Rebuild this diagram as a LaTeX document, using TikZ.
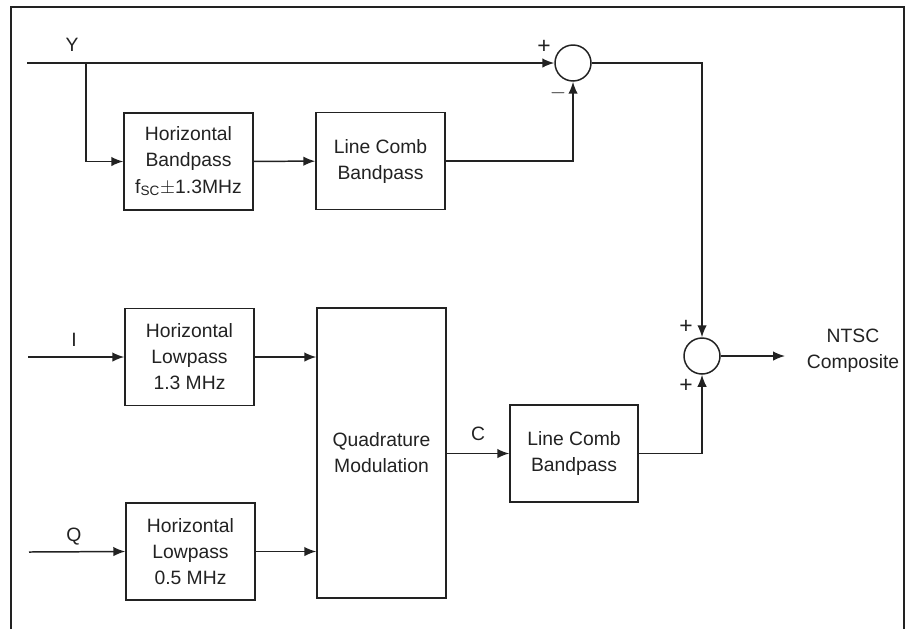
\documentclass[tikz,border=0pt]{standalone}
\usepackage{fontspec}
\setmainfont{Liberation Sans}
\usetikzlibrary{arrows.meta, positioning}
\definecolor{cInk}{HTML}{222222}
\tikzset{
  blk/.style={rectangle, draw=cInk, line width=0.85pt, align=center, font=\fontsize{11}{14.8}\selectfont,
              text=cInk, inner sep=0pt, minimum width=2.58cm, minimum height=1.94cm},
  sumj/.style={circle, draw=cInk, line width=0.85pt, inner sep=0pt, minimum size=0.72cm},
  sig/.style={-{Latex[length=2.4mm, width=1.9mm]}, line width=0.85pt, draw=cInk},
  wire/.style={line width=0.85pt, draw=cInk},
  lab/.style={font=\fontsize{11}{14.8}\selectfont, text=cInk, inner sep=0pt},
  sgn/.style={font=\fontsize{13}{14}\selectfont, text=cInk, inner sep=0pt},
}

\begin{document}
\begin{tikzpicture}[x=0.02cm, y=-0.02cm]
  \useasboundingbox (0,0) rectangle (911,629);
  % ---- frame (open at the bottom)
  \draw[wire] (11,629) -- (11,7) -- (904,7) -- (904,629);

  % ---- luminance path
  \coordinate (yin) at (27,63);
  \coordinate (ysplit) at (86,63);
  \node[lab] (ylab) at (72,45) {Y};
  \node[blk] (hbp) at (188.5,161.5) {Horizontal\\ Bandpass\\ f\textsubscript{SC}$\pm$1.3MHz};
  \node[blk] (lcby) at (380.5,161) {Line Comb\\ Bandpass};
  \node[sumj] (sumy) at (573,63) {};
  \node[sgn] at (544,47) {+};
  \node[sgn] at (558,93) {$-$};

  % ---- chroma path
  \node[lab] (ilab) at (74,340) {I};
  \node[lab] (qlab) at (74,537) {Q};
  \coordinate (iin) at (28,357);
  \coordinate (qin) at (29,552);
  \node[blk] (hlpi) at (189.5,357) {Horizontal\\ Lowpass\\ 1.3 MHz};
  \node[blk] (hlpq) at (190.5,551.5) {Horizontal\\ Lowpass\\ 0.5 MHz};
  \node[blk, minimum height=5.8cm] (qm) at (381.5,453) {Quadrature\\ Modulation};
  \node[lab] (clab) at (478,434) {C};
  \node[blk, minimum width=2.56cm] (lcbc) at (574,453.5) {Line Comb\\ Bandpass};

  % ---- output sum
  \node[sumj] (sumo) at (702,356) {};
  \node[sgn] at (686,327) {+};
  \node[sgn] at (686,386) {+};
  \node[lab, align=center] (ntsc) at (853,351) {NTSC\\ Composite};
  \coordinate (out) at (785,356);

  % ---- connectors
  \draw[sig] (yin) -- (sumy.west);
  \draw[sig] (ysplit) |- (hbp.west);
  \draw[sig] (hbp) -- (lcby);
  \draw[sig] (lcby.east) -| (sumy.south);
  \draw[sig] (sumy.east) -| (sumo.north);
  \draw[sig] (iin) -- (hlpi.west);
  \draw[sig] (qin) -- (hlpq.west);
  \draw[sig] (hlpi.east) -- (hlpi.east -| qm.west);
  \draw[sig] (hlpq.east) -- (hlpq.east -| qm.west);
  \draw[sig] (qm.east |- lcbc.west) -- (lcbc.west);
  \draw[sig] (lcbc.east) -| (sumo.south);
  \draw[sig] (sumo.east) -- (out);
\end{tikzpicture}
\end{document}
